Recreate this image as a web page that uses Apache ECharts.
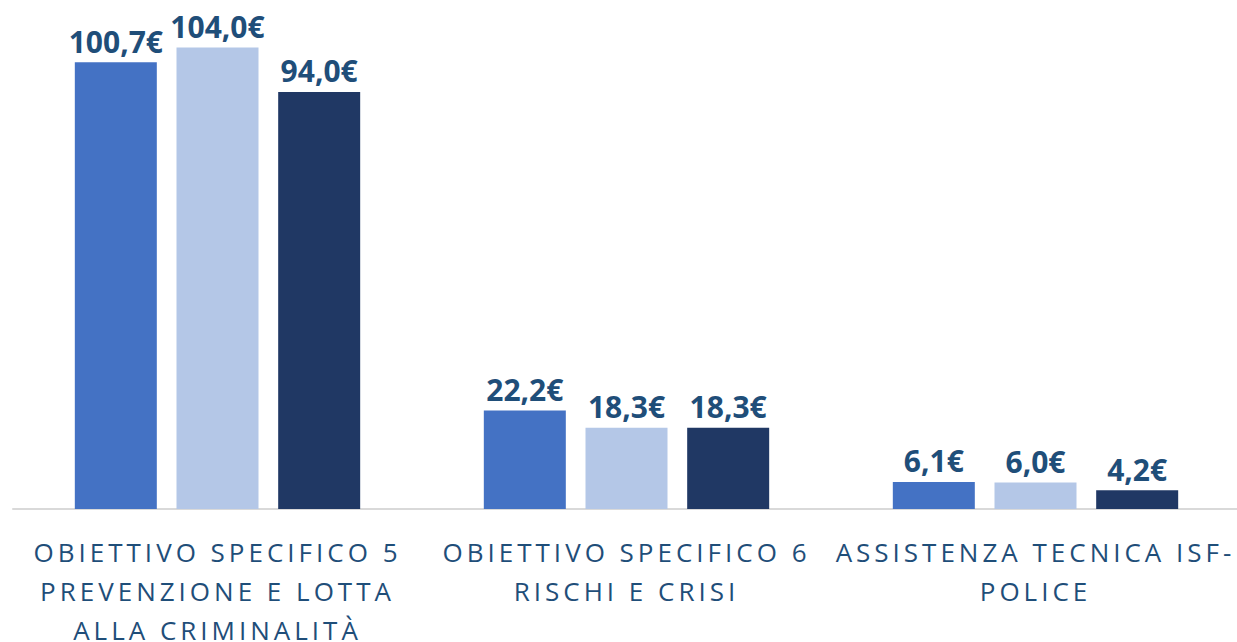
<!DOCTYPE html>
<html>
<head>
<meta charset="utf-8">
<script src="https://cdn.jsdelivr.net/npm/echarts@6/dist/echarts.min.js"></script>
<style>
  html, body { margin: 0; padding: 0; background: #fff; }
  #main { width: 1237px; height: 642px; }
  /* spaced-out axis captions */
  #main svg text.cat { letter-spacing: 4px; }
</style>
</head>
<body>
<div id="main"></div>
<script>
var categories = [
    'OBIETTIVO SPECIFICO 5\nPREVENZIONE E LOTTA\nALLA CRIMINALITÀ',
    'OBIETTIVO SPECIFICO 6\nRISCHI E CRISI',
    'ASSISTENZA TECNICA ISF-\nPOLICE'
];
var serieA = [100.7, 22.2, 6.1];
var serieB = [104.0, 18.3, 6.0];
var serieC = [94.0, 18.3, 4.2];
var colors = ['#4472C4', '#B4C7E7', '#203864'];

var chart = echarts.init(document.getElementById('main'), null, { renderer: 'svg' });

function fmt(p) {
    return p.value.toFixed(1).replace('.', ',') + '€';
}

function bar(name, data, color) {
    return {
        name: name,
        type: 'bar',
        data: data,
        barWidth: 82,
        barGap: '24%',
        itemStyle: { color: color },
        label: {
            show: true,
            position: 'top',
            distance: 6,
            formatter: fmt,
            color: '#1F4E79',
            fontFamily: 'Noto Sans',
            fontWeight: 'bold',
            fontSize: 30
        }
    };
}

var option = {
    animation: false,
    grid: { left: 13, top: 21, width: 1227, height: 488, outerBoundsMode: 'none', containLabel: false },
    xAxis: {
        type: 'category',
        data: categories,
        axisTick: { show: false },
        axisLine: { lineStyle: { color: '#D9D9D9', width: 2 } },
        axisLabel: {
            interval: 0,
            margin: 23,
            color: '#1F4E79',
            fontFamily: 'Open Sans',
            fontSize: 26,
            lineHeight: 39
        }
    },
    yAxis: {
        type: 'value',
        min: 0,
        max: 110,
        show: false,
        splitLine: { show: false }
    },
    series: [
        bar('A', serieA, colors[0]),
        bar('B', serieB, colors[1]),
        bar('C', serieC, colors[2])
    ]
};
chart.setOption(option);

// mark the category captions so CSS can widen their letter spacing
var texts = document.querySelectorAll('#main svg text');
for (var i = 0; i < texts.length; i++) {
    var s = texts[i].getAttribute('style') || '';
    if (s.indexOf('26px') >= 0) texts[i].setAttribute('class', 'cat');
}
</script>
</body>
</html>
